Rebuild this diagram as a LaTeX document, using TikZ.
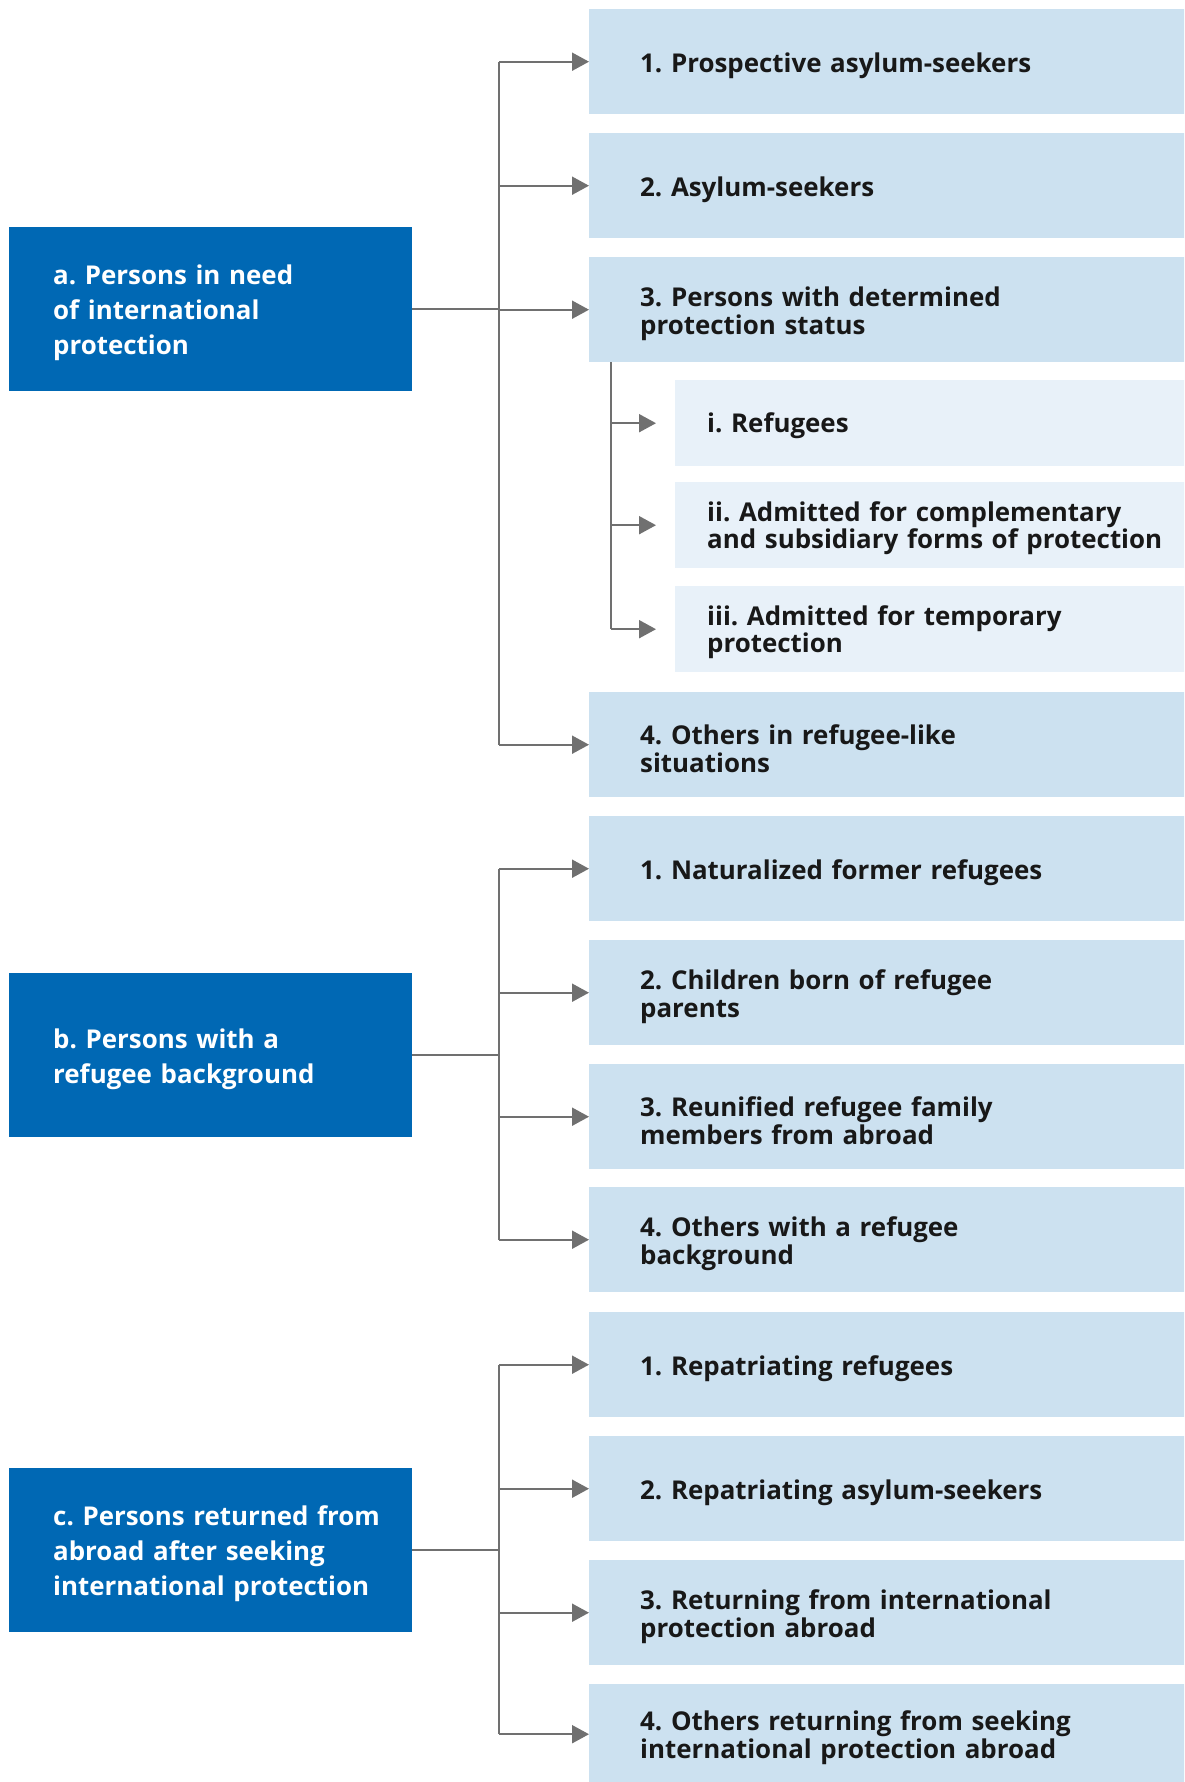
\documentclass[tikz,border=0pt]{standalone}
\usepackage{fontspec}
\setmainfont{Open Sans}
\frenchspacing
\usetikzlibrary{arrows.meta}
\definecolor{dblue}{RGB}{0,104,180}
\definecolor{lblue}{RGB}{204,225,240}
\definecolor{llblue}{RGB}{232,241,249}
\definecolor{lgray}{RGB}{112,112,112}
\definecolor{txt}{RGB}{24,24,24}
\begin{document}
\begin{tikzpicture}[x=1pt,y=-1pt,
  every node/.append style={execute at begin node={\hyphenpenalty=10000\exhyphenpenalty=10000}},
  catbox/.style={fill=dblue, text=white, anchor=north west, inner ysep=0pt, inner xsep=44pt,
    minimum width=403pt, minimum height=164pt, text width=315pt, align=left, text height=27pt,
    font=\bfseries\fontsize{25.9}{35}\selectfont},
  mainbox/.style={fill=lblue, text=txt, anchor=north west, inner ysep=0pt, inner xsep=51pt,
    minimum width=700pt, minimum height=105pt, text width=598pt, align=left, text height=27pt,
    font=\bfseries\fontsize{25.9}{28}\selectfont},
  subbox/.style={fill=llblue, text=txt, anchor=north west, inner ysep=0pt, inner xsep=32pt,
    minimum width=600pt, minimum height=86pt, text width=536pt, align=left, text height=25pt,
    font=\bfseries\fontsize{25.9}{23.5}\selectfont},
  conn/.style={draw=lgray, line width=2pt},
  arr/.style={conn, -{Triangle[length=17pt,width=18pt]}}]
\clip (0,0) rectangle (1184,1782);
\fill[white] (0,0) rectangle (1184,1782);

% left categories
\node[catbox] (a) at (9,227) {a.~Persons~in~need\\of~international\\protection};
\node[catbox] (b) at (9,973) {b.~Persons~with~a\\refugee~background};
\node[catbox] (c) at (9,1468) {c.~Persons~returned~from\\abroad~after~seeking\\international~protection};

% group a
\node[mainbox] (a1) at (589,9) {1. Prospective asylum-seekers};
\node[mainbox] (a2) at (589,133) {2. Asylum-seekers};
\node[mainbox] (a3) at (589,257) {3. Persons with determined\\protection status};
\node[subbox] (s1) at (675,380) {i. Refugees};
\node[subbox] (s2) at (675,482) {ii. Admitted for complementary\\and subsidiary forms of protection};
\node[subbox] (s3) at (675,586) {iii. Admitted for temporary\\protection};
\node[mainbox] (a4) at (589,692) {4. Others in refugee-like\\situations};

% group b
\node[mainbox] (b1) at (589,816) {1. Naturalized former refugees};
\node[mainbox] (b2) at (589,940) {2. Children born of refugee\\parents};
\node[mainbox] (b3) at (589,1064) {3. Reunified refugee family\\members from abroad};
\node[mainbox] (b4) at (589,1187) {4. Others with a refugee\\background};

% group c
\node[mainbox] (c1) at (589,1312) {1. Repatriating refugees};
\node[mainbox] (c2) at (589,1436) {2. Repatriating asylum-seekers};
\node[mainbox] (c3) at (589,1560) {3. Returning from international\\protection abroad};
\node[mainbox, minimum height=100pt] (c4) at (589,1684) {4. Others returning from seeking\\international protection abroad};

% spines
\coordinate (sp) at (499,0);
\coordinate (ss) at (611,0);

\draw[conn] (a.east) -- (a.east -| sp);
\draw[conn] (a1.west -| sp) -- (a4.west -| sp);
\foreach \n in {a1,a2,a3,a4} \draw[arr] (\n.west -| sp) -- (\n.west);
\draw[conn] (a3.south -| ss) -- (s3.west -| ss);
\foreach \n in {s1,s2,s3} \draw[arr] (\n.west -| ss) -- ([xshift=-19pt]\n.west);

\draw[conn] (b.east) -- (b.east -| sp);
\draw[conn] (b1.west -| sp) -- (b4.west -| sp);
\foreach \n in {b1,b2,b3,b4} \draw[arr] (\n.west -| sp) -- (\n.west);

\draw[conn] (c.east) -- (c.east -| sp);
\draw[conn] (c1.west -| sp) -- (c4.west -| sp);
\foreach \n in {c1,c2,c3,c4} \draw[arr] (\n.west -| sp) -- (\n.west);
\end{tikzpicture}
\end{document}
